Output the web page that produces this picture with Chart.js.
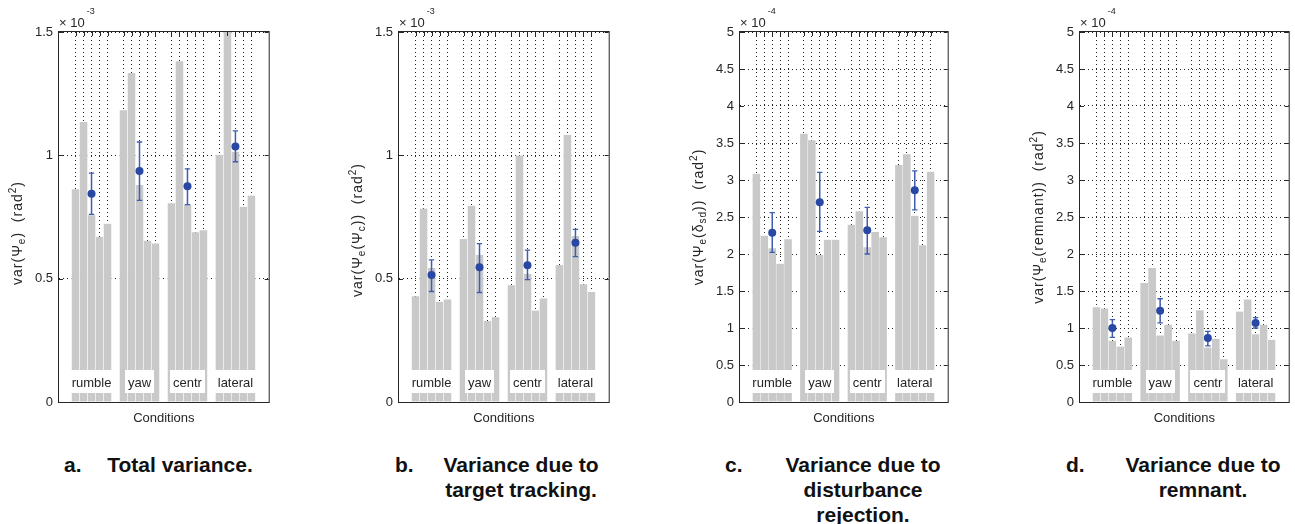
<!DOCTYPE html>
<html>
<head>
<meta charset="utf-8">
<script src="https://cdn.jsdelivr.net/npm/chart.js@4.4.1/dist/chart.umd.min.js"></script>
<style>
  body { margin: 0; background: #fff; width: 1295px; height: 524px; position: relative; overflow: hidden;
         font-family: "Liberation Sans", Arial, sans-serif; }
  .panel { position: absolute; top: 0; height: 430px; }
  .cap { position: absolute; top: 452px; font-weight: bold; font-size: 21px; line-height: 25px; color: #111; white-space: nowrap; }
  .capt { text-align: center; width: 200px; }
</style>
</head>
<body>

<div class="panel" id="wrapA" style="left:0px;width:274px"><canvas id="chartA"></canvas></div>
<div class="panel" id="wrapB" style="left:340px;width:274px"><canvas id="chartB"></canvas></div>
<div class="panel" id="wrapC" style="left:681px;width:272px"><canvas id="chartC"></canvas></div>
<div class="panel" id="wrapD" style="left:1021px;width:273px"><canvas id="chartD"></canvas></div>

<div class="cap" style="left:64px">a.</div>
<div class="cap capt" style="left:80px">Total variance.</div>
<div class="cap" style="left:395px">b.</div>
<div class="cap capt" style="left:421px">Variance due to<br>target tracking.</div>
<div class="cap" style="left:725px">c.</div>
<div class="cap capt" style="left:763px">Variance due to<br>disturbance<br>rejection.</div>
<div class="cap" style="left:1066px">d.</div>
<div class="cap capt" style="left:1103px">Variance due to<br>remnant.</div>

<script>
// conditions, 5 subjects per condition
const groups = ['rumble', 'yaw', 'centr', 'lateral'];
// bar positions on the x axis, one empty slot between conditions
const barPos = [1, 2, 3, 4, 5, 7, 8, 9, 10, 11, 13, 14, 15, 16, 17, 19, 20, 21, 22, 23];
const groupPos = [3, 9, 15, 21];

// a. total variance (x 1e-3 rad^2)
const totalBars = [0.863, 1.135, 0.757, 0.670, 0.723, 1.183, 1.334, 0.880, 0.654, 0.643,
                   0.806, 1.381, 0.800, 0.688, 0.696, 1.002, 1.55, 1.015, 0.792, 0.837];
const totalMean = [0.844, 0.936, 0.875, 1.036];
const totalLow  = [0.761, 0.817, 0.800, 0.974];
const totalHigh = [0.928, 1.054, 0.945, 1.099];

// b. variance due to target tracking (x 1e-3 rad^2)
const targetBars = [0.429, 0.784, 0.543, 0.406, 0.416, 0.661, 0.796, 0.596, 0.328, 0.344,
                    0.473, 0.999, 0.520, 0.371, 0.420, 0.555, 1.083, 0.673, 0.477, 0.446];
const targetMean = [0.515, 0.546, 0.554, 0.646];
const targetLow  = [0.448, 0.444, 0.496, 0.589];
const targetHigh = [0.576, 0.642, 0.616, 0.700];

// c. variance due to disturbance rejection (x 1e-4 rad^2)
const distBars = [3.086, 2.248, 2.077, 1.869, 2.198, 3.626, 3.536, 1.986, 2.194, 2.194,
                  2.396, 2.577, 2.090, 2.297, 2.225, 3.203, 3.347, 2.518, 2.117, 3.113];
const distMean = [2.288, 2.698, 2.320, 2.860];
const distLow  = [2.023, 2.306, 2.000, 2.595];
const distHigh = [2.559, 3.104, 2.631, 3.122];

// d. variance due to remnant (x 1e-4 rad^2)
const remBars = [1.282, 1.264, 0.827, 0.750, 0.873, 1.609, 1.814, 0.900, 1.045, 0.827,
                 0.927, 1.241, 0.736, 0.855, 0.577, 1.223, 1.386, 0.914, 1.045, 0.841];
const remMean = [1.000, 1.232, 0.864, 1.068];
const remLow  = [0.873, 1.068, 0.759, 1.000];
const remHigh = [1.114, 1.395, 0.955, 1.141];

const FONT = '"Liberation Sans", Arial, sans-serif';
const INK = '#262626';
const BLUE = '#2848a4';
const BLUE_LINE = '#3f5eb2';

// draw text with sub/superscripts, optionally rotated
function richText(ctx, parts, x, y, size, rotate, supShift) {
    ctx.save();
    ctx.translate(x, y);
    if (rotate) ctx.rotate(-Math.PI / 2);
    ctx.fillStyle = INK;
    ctx.textAlign = 'left';
    ctx.textBaseline = 'alphabetic';
    ctx.letterSpacing = rotate ? '1px' : '0px';
    const fontOf = k => (k === 'n' ? size : Math.round(size * 0.72)) + 'px ' + FONT;
    let total = 0;
    parts.forEach(([t, k]) => { ctx.font = fontOf(k); total += ctx.measureText(t).width; });
    let cx = rotate ? -total / 2 : 0;
    parts.forEach(([t, k]) => {
        ctx.font = fontOf(k);
        const dy = k === 'sub' ? 3 : (k === 'sup' ? -supShift : 0);
        if (k === 'sup' && !rotate) cx += 2;
        ctx.fillText(t, cx, dy);
        cx += ctx.measureText(t).width;
    });
    ctx.restore();
}

// matlab style decorations: label boxes, frame, ticks, exponent, y label
const matlabAxes = {
    id: 'matlabAxes',
    afterDatasetsDraw(chart, args, opts) {
        const {ctx, chartArea, scales: {x}} = chart;
        ctx.save();
        ctx.font = '13px ' + FONT;
        ctx.textAlign = 'center';
        ctx.textBaseline = 'middle';
        groups.forEach((g, i) => {
            const cx = x.getPixelForValue(groupPos[i]);
            const w = Math.round(ctx.measureText(g).width + 6);
            ctx.fillStyle = '#fff';
            ctx.fillRect(Math.round(cx - w / 2), chartArea.bottom - 32, w, 23);
            ctx.fillStyle = INK;
            ctx.fillText(g, cx, chartArea.bottom - 19);
        });
        ctx.restore();
    },
    afterDraw(chart, args, opts) {
        const {ctx, chartArea: a, scales: {x, y}} = chart;
        ctx.save();
        ctx.strokeStyle = INK;
        ctx.lineWidth = 1;
        ctx.strokeRect(a.left - 0.5, a.top - 0.5, a.right - a.left + 1, a.bottom - a.top + 1);
        ctx.beginPath();
        y.ticks.forEach(t => {
            const py = Math.round(y.getPixelForValue(t.value)) + 0.5;
            ctx.moveTo(a.left, py); ctx.lineTo(a.left + 4, py);
            ctx.moveTo(a.right, py); ctx.lineTo(a.right - 4, py);
        });
        barPos.forEach(v => {
            const px = Math.round(x.getPixelForValue(v)) + 0.5;
            ctx.moveTo(px, a.top); ctx.lineTo(px, a.top + 4);
        });
        ctx.stroke();
        ctx.restore();

        // exponent above the axis
        richText(ctx, [['\u00d7 10', 'n'], ['-' + opts.exp, 'sup']], a.left, 27, 13, false, 13);
        // y label
        richText(ctx, opts.ylabel, a.left - 37, opts.labelY, 14, true, 6);
    }
};

function makeChart(id, bars, mean, low, high, yMax, exp, ylabel, labelY) {
    const whiskers = groupPos.map((c, i) => ({
        type: 'line',
        data: [{x: c, y: low[i]}, {x: c, y: high[i]}],
        borderColor: BLUE_LINE,
        borderWidth: 1.5,
        pointStyle: 'line',
        pointRadius: 2.7,
        pointBorderColor: BLUE_LINE,
        pointBorderWidth: 1.3,
        order: 1
    }));

    const config = {
        type: 'bar',
        data: {
            datasets: [
                {
                    type: 'scatter',
                    data: groupPos.map((c, i) => ({x: c, y: mean[i]})),
                    backgroundColor: BLUE,
                    borderWidth: 0,
                    pointRadius: 4,
                    order: 0
                },
                ...whiskers,
                {
                    type: 'bar',
                    data: bars.map((v, i) => ({x: barPos[i], y: v})),
                    backgroundColor: '#c9c9c9',
                    borderColor: '#ffffff',
                    borderWidth: {left: 0.5, right: 0.5, top: 0, bottom: 0},
                    categoryPercentage: 1,
                    barPercentage: 1,
                    order: 2
                }
            ]
        },
        options: {
            responsive: false,
            animation: false,
            devicePixelRatio: 1,
            layout: {padding: {top: 32, right: 1, bottom: 0, left: 0}},
            plugins: {
                legend: {display: false},
                tooltip: {enabled: false},
                matlabAxes: {exp: exp, ylabel: ylabel, labelY: labelY}
            },
            scales: {
                x: {
                    type: 'linear',
                    min: -1.07,
                    max: 25.16,
                    offset: false,
                    afterBuildTicks: s => { s.ticks = barPos.map(v => ({value: v})); },
                    afterFit: s => { s.height = 28; },
                    ticks: {display: false},
                    grid: {offset: false, drawTicks: false, color: '#222'},
                    border: {display: false, dash: [1, 3]},
                    title: {
                        display: true,
                        text: 'Conditions',
                        color: INK,
                        font: {family: FONT, size: 13},
                        padding: {top: 0, bottom: 4}
                    }
                },
                y: {
                    min: 0,
                    max: yMax,
                    ticks: {
                        stepSize: 0.5, color: INK, padding: 6, font: {family: FONT, size: 13},
                        callback: v => String(Math.round(v * 100) / 100)
                    },
                    afterFit: s => { s.width = 59; },
                    grid: {drawTicks: false, color: '#222'},
                    border: {display: false, dash: [1, 3]}
                }
            }
        },
        plugins: [matlabAxes]
    };

    const canvas = document.getElementById(id);
    const wrap = canvas.parentNode;
    canvas.width = parseInt(wrap.style.width);
    canvas.height = 430;
    return new Chart(canvas.getContext('2d'), config);
}

makeChart('chartA', totalBars, totalMean, totalLow, totalHigh, 1.5, 3,
    [['var(\u03a8', 'n'], ['e', 'sub'], [')  (rad', 'n'], ['2', 'sup'], [')', 'n']], 233);
makeChart('chartB', targetBars, targetMean, targetLow, targetHigh, 1.5, 3,
    [['var(\u03a8', 'n'], ['e', 'sub'], ['(\u03a8', 'n'], ['c', 'sub'], ['))  (rad', 'n'], ['2', 'sup'], [')', 'n']], 230);
makeChart('chartC', distBars, distMean, distLow, distHigh, 5, 4,
    [['var(\u03a8', 'n'], ['e', 'sub'], ['(\u03b4', 'n'], ['sd', 'sub'], ['))  (rad', 'n'], ['2', 'sup'], [')', 'n']], 217);
makeChart('chartD', remBars, remMean, remLow, remHigh, 5, 4,
    [['var(\u03a8', 'n'], ['e', 'sub'], ['(remnant))  (rad', 'n'], ['2', 'sup'], [')', 'n']], 217);
</script>
</body>
</html>
